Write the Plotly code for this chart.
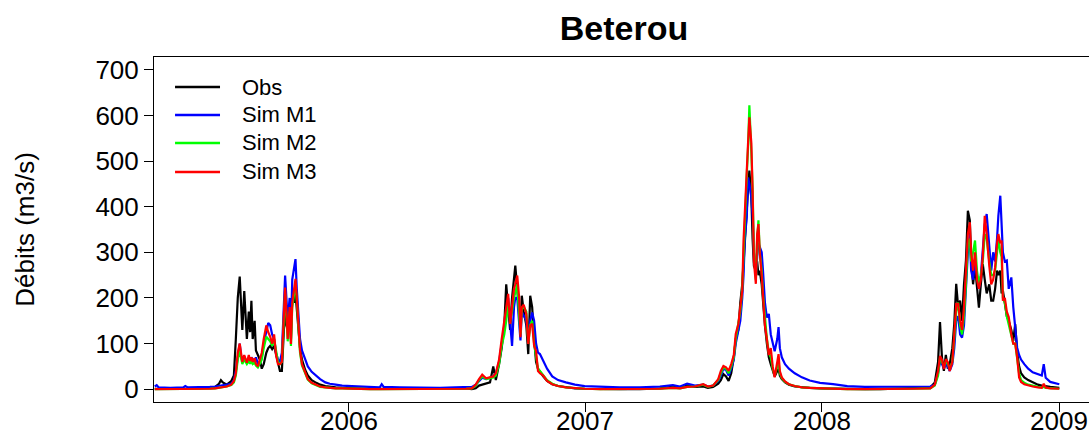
import pandas as pd
import plotly.graph_objects as go

# Daily discharge at Beterou (m3/s), sampled; jours = days since 2005-01-01
jours = [
    # 2005
    66, 69, 72, 90, 110, 113, 117, 136, 151, 159,
    165, 168, 171, 177, 184, 188, 191, 194, 197, 199,
    201, 204, 206, 208, 211, 213, 215, 217, 220, 222,
    225, 228, 231, 234, 238, 241, 244, 247, 250, 253,
    256, 259, 262, 265, 267, 269, 271, 274, 276, 278,
    281, 283, 285, 288, 290, 293, 298, 302, 308, 315,
    321, 329, 336, 345, 355,
    # dry season 2006
    370, 398, 413, 416, 419, 444, 475, 506, 529, 546,
    # 2006
    555, 561, 566, 571, 577, 583, 588, 592, 597, 601,
    605, 608, 611, 614, 617, 620, 622, 625, 628, 630,
    632, 635, 639, 642, 645, 648, 651, 654, 657, 660,
    665, 671, 679, 688, 700, 714, 729, 753, 783,
    # 2007
    814, 845, 865, 876, 887, 899, 912, 919, 927, 935,
    939, 943, 947, 951, 955, 959, 962, 966, 969, 972,
    974, 976, 979, 981, 983, 986, 988, 990, 993, 995,
    997, 999, 1002, 1004, 1007, 1010, 1013, 1016, 1019, 1022,
    1026, 1028, 1030, 1033, 1038, 1044, 1053, 1064, 1076, 1092,
    1112, 1134, 1161,
    # 2008
    1185, 1215, 1238, 1262, 1269, 1274, 1277, 1280, 1283, 1286,
    1289, 1292, 1296, 1299, 1302, 1305, 1308, 1311, 1314, 1317,
    1320, 1323, 1325, 1328, 1331, 1334, 1337, 1340, 1343, 1346,
    1349, 1353, 1356, 1359, 1362, 1365, 1367, 1370, 1372, 1374,
    1377, 1380, 1383, 1387, 1390, 1393, 1396, 1399, 1402, 1407,
    1413, 1420, 1428, 1434, 1437, 1440, 1447, 1454, 1461,
]

obs = [
    1, 1, 1, 0, 1, 1, 1, 2, 3, 5,
    12, 20, 15, 10, 18, 30, 110, 200, 247, 200,
    130, 215, 150, 110, 170, 125, 194, 110, 150, 85,
    75, 65, 45, 55, 80, 90, 95, 88, 95, 75,
    60, 40, 40, 120, 183, 140, 130, 165, 110, 200,
    190, 210, 170, 120, 90, 65, 42, 30, 20, 14,
    10, 7, 5, 4, 3,
    2, 1, 1, 1, 1, 1, 0, 1, 1, 2,
    0, 2, 8, 10, 12, 15, 50, 20, 55, 90,
    140, 230, 180, 130, 200, 240, 271, 220, 160, 130,
    205, 170, 140, 77, 205, 180, 110, 60, 45, 38,
    28, 18, 11, 7, 4, 2, 1, 0, 0,
    0, 2, 5, 3, 8, 5, 6, 3, 5, 12,
    20, 33, 28, 18, 35, 70, 110, 130, 190, 230,
    275, 330, 400, 440, 479, 420, 330, 270, 260, 280,
    250, 260, 230, 190, 140, 100, 70, 55, 40, 28,
    40, 45, 30, 22, 15, 10, 6, 4, 3, 2,
    1, 1, 0,
    0, 1, 3, 4, 15, 60, 147, 70, 40, 75,
    45, 55, 90, 143, 231, 180, 194, 150, 230, 282,
    391, 370, 282, 230, 270, 220, 179, 230, 274, 240,
    210, 230, 194, 194, 220, 260, 250, 260, 210, 216,
    190, 160, 150, 130, 106, 143, 80, 50, 35, 26,
    20, 15, 10, 8, 7, 6, 5, 4, 3,
]

sim_m1 = [
    6, 9, 4, 3, 4, 7, 4, 4, 5, 6,
    7, 8, 9, 10, 12, 20, 40, 70, 100, 75,
    60, 70, 65, 60, 68, 62, 70, 65, 60, 70,
    55, 60, 70, 100, 130, 145, 140, 120, 110, 80,
    65, 60, 80, 180, 249, 200, 150, 200, 130, 240,
    270, 285, 220, 150, 110, 85, 65, 50, 38, 30,
    22, 15, 12, 10, 8,
    7, 5, 4, 11, 5, 4, 3, 3, 4, 4,
    5, 10, 18, 25, 22, 25, 28, 35, 60, 100,
    130, 160, 200, 140, 95, 180, 200, 200, 140, 107,
    170, 160, 150, 110, 150, 168, 150, 100, 80, 77,
    62, 45, 28, 20, 15, 10, 7, 5, 4,
    4, 6, 9, 6, 12, 8, 10, 6, 8, 18,
    30, 45, 42, 30, 45, 65, 100, 130, 150, 200,
    250, 330, 378, 464, 450, 420, 380, 300, 250, 290,
    320, 312, 300, 260, 190, 157, 165, 120, 100, 83,
    110, 136, 90, 70, 55, 45, 35, 26, 19, 14,
    11, 7, 5,
    5, 5, 6, 6, 10, 35, 60, 55, 45, 55,
    50, 40, 55, 90, 150, 160, 120, 113, 140, 220,
    300, 340, 260, 240, 280, 250, 220, 250, 300, 360,
    384, 300, 260, 300, 280, 330, 380, 424, 360, 300,
    280, 282, 220, 245, 180, 140, 91, 75, 65, 55,
    45, 37, 32, 30, 55, 25, 16, 13, 11,
]

sim_m2 = [
    0, 0, 0, 0, 0, 0, 0, 0, 1, 2,
    3, 4, 5, 6, 9, 15, 30, 65, 85, 70,
    55, 65, 58, 55, 62, 56, 62, 55, 58, 52,
    48, 55, 65, 90, 115, 110, 105, 95, 110, 85,
    60, 55, 60, 150, 210, 160, 105, 170, 95, 180,
    215, 230, 195, 125, 80, 52, 33, 21, 13, 8,
    5, 4, 3, 2, 2,
    1, 0, 0, 0, 0, 0, 0, 0, 1, 1,
    2, 8, 20, 28, 22, 24, 26, 30, 55, 95,
    120, 150, 190, 150, 170, 200, 210, 230, 160, 120,
    175, 180, 170, 100, 140, 150, 100, 75, 45, 40,
    30, 20, 12, 7, 4, 2, 1, 0, 0,
    0, 1, 3, 2, 5, 6, 10, 5, 8, 20,
    35, 48, 45, 35, 50, 70, 110, 140, 170, 220,
    300, 380, 470, 530, 622, 520, 440, 300, 240, 330,
    370, 300, 260, 210, 150, 110, 80, 70, 45, 30,
    50, 60, 35, 24, 16, 11, 7, 4, 3, 2,
    1, 0, 0,
    0, 0, 1, 2, 8, 30, 70, 60, 50, 60,
    55, 45, 60, 110, 170, 190, 140, 120, 160, 230,
    320, 330, 280, 300, 326, 260, 230, 250, 280, 340,
    330, 280, 250, 250, 260, 300, 330, 300, 290, 200,
    190, 160, 140, 120, 100, 100, 60, 35, 20, 14,
    10, 7, 5, 4, 5, 3, 2, 2, 1,
]

sim_m3 = [
    0, 0, 0, 0, 0, 0, 0, 0, 1, 2,
    3, 4, 5, 6, 10, 18, 35, 80, 100, 80,
    60, 75, 65, 58, 75, 62, 70, 60, 68, 55,
    50, 65, 80, 110, 140, 125, 115, 100, 120, 75,
    55, 55, 60, 160, 223, 170, 110, 180, 99, 190,
    230, 242, 200, 130, 85, 55, 35, 22, 14, 9,
    6, 4, 3, 2, 2,
    1, 0, 0, 0, 0, 0, 0, 0, 1, 1,
    2, 10, 22, 32, 24, 26, 28, 35, 65, 110,
    150, 175, 209, 143, 190, 220, 230, 249, 200, 114,
    180, 185, 165, 99, 140, 143, 95, 84, 40, 35,
    30, 18, 11, 7, 4, 2, 1, 0, 0,
    0, 1, 3, 2, 5, 6, 11, 6, 8, 22,
    40, 51, 48, 40, 55, 75, 121, 143, 180, 216,
    326, 399, 508, 540, 596, 540, 435, 280, 231, 340,
    362, 300, 250, 201, 140, 110, 75, 90, 50, 26,
    55, 77, 40, 26, 17, 11, 7, 4, 3, 2,
    1, 0, 0,
    0, 0, 1, 2, 10, 40, 73, 65, 44, 66,
    60, 40, 60, 120, 187, 187, 150, 130, 180, 260,
    340, 366, 300, 260, 300, 240, 220, 240, 290, 380,
    340, 270, 230, 240, 267, 320, 340, 320, 326, 194,
    200, 170, 158, 120, 100, 100, 70, 26, 16, 11,
    8, 6, 4, 3, 12, 4, 2, 2, 1,
]

year_ticks = ["2006-01-01", "2007-01-01", "2008-01-01", "2009-01-01"]
year_labels = ["2006", "2007", "2008", "2009"]

series_names = ["Obs", "Sim M1", "Sim M2", "Sim M3"]
series_colors = ["#000000", "#0000FF", "#00FF00", "#FF0000"]

assert len(jours) == len(obs) == len(sim_m1) == len(sim_m2) == len(sim_m3)

dates = pd.Timestamp("2005-01-01") + pd.to_timedelta(jours, unit="D")

fig = go.Figure()
for name, values, color in zip(series_names, [obs, sim_m1, sim_m2, sim_m3], series_colors):
    fig.add_trace(go.Scatter(x=dates, y=values, mode="lines", name=name,
                             line=dict(color=color, width=2.2), showlegend=False))

FONT = "Liberation Sans, Arial, sans-serif"

# Legend box in the top-left corner of the panel (R-style: line sample + label)
legend_rows_y = [0.913, 0.832, 0.751, 0.667]
for name, color, ly in zip(series_names, series_colors, legend_rows_y):
    fig.add_shape(type="line", xref="paper", yref="paper",
                  x0=0.0225, x1=0.0706, y0=ly, y1=ly,
                  line=dict(color=color, width=2.5))
    fig.add_annotation(text=name, xref="paper", yref="paper", x=0.092, y=ly,
                       xanchor="left", yanchor="middle", showarrow=False,
                       font=dict(size=22, family=FONT, color="black"))

# Year labels placed on the date axis, tucked close under the tick marks
for tick, label in zip(year_ticks, year_labels):
    fig.add_annotation(text=label, xref="x", yref="paper", x=tick, y=-0.056,
                       xanchor="center", yanchor="middle", showarrow=False,
                       font=dict(size=26, family=FONT, color="black"))

fig.update_layout(
    width=1089, height=434,
    margin=dict(l=154, r=0, t=57, b=32),
    paper_bgcolor="white", plot_bgcolor="white",
    font=dict(family=FONT, color="black", size=22),
    title=dict(text="<b>Beterou</b>", x=0.5027, xref="paper", xanchor="center",
               y=1 - 28 / 434, yref="container", yanchor="middle",
               font=dict(size=34, family=FONT, color="black")),
    showlegend=False,
)

fig.update_xaxes(
    type="date", range=["2005-03-06 19:00", "2009-02-15 19:00"],
    tickvals=year_ticks, showticklabels=False,
    ticks="outside", ticklen=9, tickwidth=1, tickcolor="black",
    showline=True, linecolor="black", linewidth=1, mirror=True,
    showgrid=False, zeroline=False, automargin=False,
)
fig.update_yaxes(
    range=[-28, 728], tickvals=list(range(0, 701, 100)),
    ticks="outside", ticklen=9, tickwidth=1, tickcolor="black",
    showline=True, linecolor="black", linewidth=1, mirror=False,
    showgrid=False, zeroline=False, automargin=False,
    tickfont=dict(size=26, family=FONT),
    title=dict(text="Débits (m3/s)", font=dict(size=26, family=FONT), standoff=53),
)

fig.write_html("out.html")
